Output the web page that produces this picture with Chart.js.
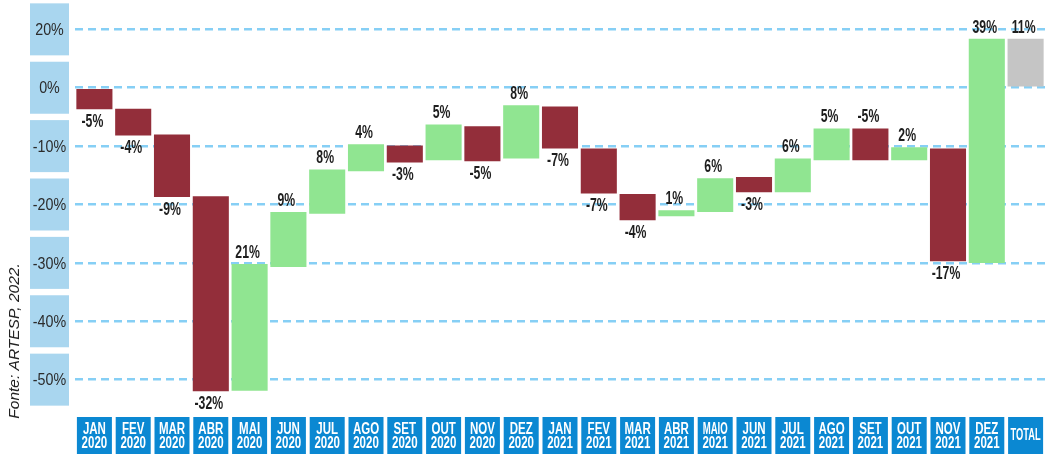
<!DOCTYPE html>
<html>
<head>
<meta charset="utf-8">
<script src="https://cdn.jsdelivr.net/npm/chart.js@4/dist/chart.umd.min.js"></script>
<style>
  html, body { margin: 0; padding: 0; background: #fff; }
  #caixa { width: 1045px; height: 455px; position: relative; }
</style>
</head>
<body>
<div id="caixa"><canvas id="myChart"></canvas></div>
<script>
// meses (categorias) e variacao mensal
var meses = [
  ['JAN', '2020'], ['FEV', '2020'], ['MAR', '2020'], ['ABR', '2020'], ['MAI', '2020'],
  ['JUN', '2020'], ['JUL', '2020'], ['AGO', '2020'], ['SET', '2020'], ['OUT', '2020'],
  ['NOV', '2020'], ['DEZ', '2020'], ['JAN', '2021'], ['FEV', '2021'], ['MAR', '2021'],
  ['ABR', '2021'], ['MAIO', '2021'], ['JUN', '2021'], ['JUL', '2021'], ['AGO', '2021'],
  ['SET', '2021'], ['OUT', '2021'], ['NOV', '2021'], ['DEZ', '2021'], ['TOTAL']
]
// inicio e fim de cada barra (%)
var inicio = [0, -3.6, -8.0, -18.6, -51.9, -30.7, -21.6, -14.3, -9.9, -12.4, -6.6, -12.1, -3.2,
  -10.4, -18.2, -22.0, -21.3, -15.3, -17.9, -12.4, -7.0, -12.4, -10.4, -30.0, 0]
var fim = [-3.7, -8.2, -18.7, -52.0, -30.2, -21.3, -14.0, -9.7, -12.8, -6.3, -12.6, -3.0, -10.4,
  -18.1, -22.7, -21.0, -15.5, -17.9, -12.1, -7.0, -12.4, -10.2, -29.7, 8.4, 8.4]
var rotulos = ['-5%', '-4%', '-9%', '-32%', '21%', '9%', '8%', '4%', '-3%', '5%', '-5%', '8%', '-7%',
  '-7%', '-4%', '1%', '6%', '-3%', '6%', '5%', '-5%', '2%', '-17%', '39%', '11%']
// eixo y
var ticksY = [10, 0, -10, -20, -30, -40, -50]
var ticksTexto = ['20%', '0%', '-10%', '-20%', '-30%', '-40%', '-50%']

var VERMELHO = '#932e3a', VERDE = '#90e591', CINZA = '#c5c5c5'
var FONTE = "'Liberation Sans', Arial, sans-serif"

var barras = meses.map(function (m, i) { return [inicio[i], fim[i]] })
var cores = meses.map(function (m, i) {
  if (m[0] === 'TOTAL') return CINZA
  return fim[i] < inicio[i] ? VERMELHO : VERDE
})

// texto estreito (condensado na horizontal)
function texto(c, s, x, y, font, sx) {
  c.save()
  c.translate(x, y)
  c.scale(sx, 1)
  c.font = font
  c.textAlign = 'center'
  c.textBaseline = 'middle'
  c.fillText(s, 0, 0)
  c.restore()
}

var caixas = {
  id: 'caixas',
  afterDraw: function (chart, args, opts) {
    var c = chart.ctx
    var y = chart.scales.y, x = chart.scales.x
    c.save()
    // rotulos do eixo y em caixas azul claro
    ticksY.forEach(function (v, i) {
      var py = y.getPixelForValue(v)
      c.fillStyle = '#a9d6ef'
      c.fillRect(30, py - 26, 39, 52)
      c.fillStyle = '#2b2b2b'
      texto(c, ticksTexto[i], 49.5, py + 1, '17px ' + FONTE, 0.84)
    })
    // meses em caixas azuis
    meses.forEach(function (m, i) {
      var px = x.getPixelForValue(i)
      c.fillStyle = '#0b88d2'
      c.fillRect(px - 17.5, 417, 35, 37)
      c.fillStyle = '#fff'
      var f = 'bold 16px ' + FONTE
      if (m.length > 1) {
        texto(c, m[0], px, 429.5, f, m[0].length > 3 ? 0.6 : 0.72)
        texto(c, m[1], px, 444, f, 0.72)
      } else {
        texto(c, m[0], px, 436, f, 0.58)
      }
    })
    // fonte
    c.translate(15, 341)
    c.rotate(-Math.PI / 2)
    c.fillStyle = '#222'
    c.font = 'italic 15.5px ' + FONTE
    c.textAlign = 'center'
    c.textBaseline = 'middle'
    c.fillText('Fonte: ARTESP, 2022.', 0, 0)
    c.restore()
  },
  afterDatasetsDraw: function (chart, args, opts) {
    var c = chart.ctx
    var meta = chart.getDatasetMeta(0)
    c.save()
    c.fillStyle = '#1e1e1e'
    meta.data.forEach(function (bar, i) {
      var topo = Math.min(bar.y, bar.base)
      var baixo = Math.max(bar.y, bar.base)
      var acima = fim[i] >= inicio[i]
      if (opts.inverter.indexOf(i) >= 0) acima = !acima
      var py = acima ? topo - 11 : baixo + 13
      texto(c, rotulos[i], bar.x - 2, py, 'bold 17.5px ' + FONTE, 0.7)
    })
    c.restore()
  }
}

var ctx = document.getElementById('myChart')
var myChart = new Chart(ctx, {
  type: 'bar',
  data: {
    labels: meses,
    datasets: [{
      data: barras,
      backgroundColor: cores,
      borderWidth: 0,
      barPercentage: 0.93,
      categoryPercentage: 1
    }]
  },
  options: {
    responsive: true,
    maintainAspectRatio: false,
    animation: false,
    layout: { padding: { left: 75, right: 0, top: 6, bottom: 52 } },
    scales: {
      x: { display: false },
      y: {
        min: -54,
        max: 14,
        afterBuildTicks: function (axis) {
          axis.ticks = ticksY.map(function (v) { return { value: v } })
        },
        ticks: { display: false },
        grid: { color: '#86cff5', lineWidth: 2.5, drawTicks: false },
        border: { display: false, dash: [8, 5] }
      }
    },
    plugins: {
      legend: { display: false },
      tooltip: { enabled: false },
      caixas: { inverter: [20] }
    }
  },
  plugins: [caixas]
})
</script>
</body>
</html>
